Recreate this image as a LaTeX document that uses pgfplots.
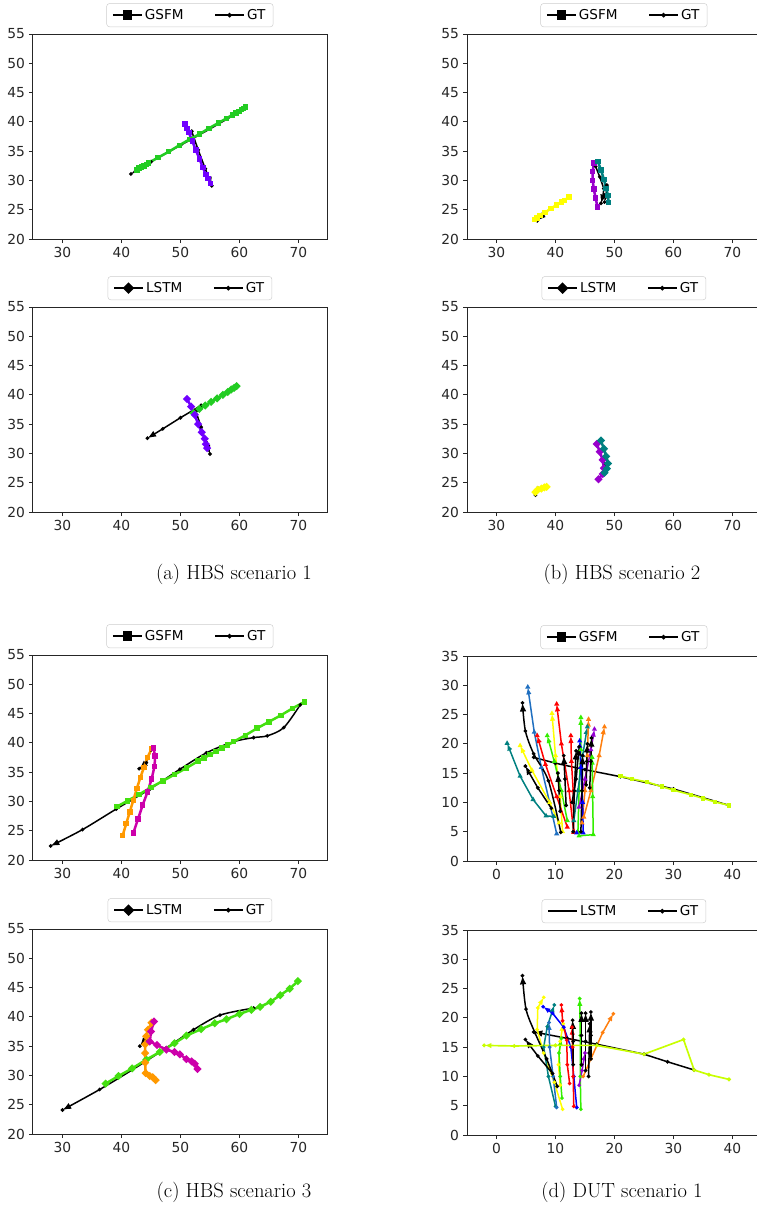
\documentclass[border=0pt]{standalone}
\usepackage{fontspec}
\usepackage{pgfplots}
\pgfplotsset{compat=1.18}
\usetikzlibrary{arrows.meta}
\newfontfamily\djv{DejaVu Sans}

\definecolor{ga}{HTML}{22CC22}
\definecolor{pa}{HTML}{7000FF}
\definecolor{yl}{HTML}{FFFF00}
\definecolor{pb}{HTML}{9900CC}
\definecolor{tl}{HTML}{008080}
\definecolor{gc}{HTML}{44E010}
\definecolor{oc}{HTML}{FF9900}
\definecolor{mc}{HTML}{CC00AA}
\definecolor{lm}{HTML}{C8FF00}
\definecolor{tb}{HTML}{1F6FC0}
\definecolor{rd}{HTML}{FF0000}
\definecolor{gr}{HTML}{33EE00}
\definecolor{or}{HTML}{FF7F0E}
\definecolor{pu}{HTML}{9400D3}
\definecolor{bl}{HTML}{0000FF}

\pgfplotsset{
  traj/.style={scale only axis, width=88.5mm, height=61.5mm, anchor=south west,
    axis line style={black!85, line width=0.3mm},
    tick align=outside, tick pos=left, major tick length=1.2mm,
    tick style={black!85, line width=0.3mm},
    ticklabel style={font=\djv\fontsize{11.8}{14}\selectfont, text=black!85},
    /pgf/number format/assume math mode=true,
    legend columns=2,
    legend style={at={(0.532,1)}, anchor=south, yshift=2.1mm,
      font=\djv\fontsize{11.6}{14}\selectfont, draw=black!20, rounded corners=0.8mm,
      inner xsep=1.6mm, inner ysep=1.0mm,
      /tikz/every even column/.append style={column sep=8.5mm}},
    legend image code/.code={\draw[mark repeat=2,mark phase=2,##1] plot coordinates {(0mm,0mm) (4.35mm,0mm) (8.7mm,0mm)};},
  },
  hbs/.style={traj, xmin=25, xmax=75, ymin=20, ymax=55, xtick={30,40,...,70}, ytick={20,25,...,55}},
  dut/.style={traj, xmin=-5, xmax=45, ymin=0, ymax=35, xtick={0,10,...,40}, ytick={0,5,...,35}},
  gs/.style={line width=0.75mm, mark=square*, mark size=0.45mm, forget plot},
  ls/.style={line width=0.75mm, mark=square*, mark options={rotate=45}, mark size=0.5mm, forget plot},
  gt/.style={black, line width=0.45mm, mark=*, mark size=0.3mm, forget plot, -{Latex[length=2.6mm,width=2mm]}},
  gtn/.style={black, line width=0.45mm, mark=*, mark size=0.3mm, forget plot},
  gsd/.style={line width=0.45mm, mark=triangle*, mark size=0.45mm, forget plot, -{Latex[length=2.2mm,width=1.6mm]}},
  lsd/.style={line width=0.45mm, mark=*, mark size=0.3mm, forget plot, -{Latex[length=2.2mm,width=1.6mm]}},
  legG/.style={black, line width=0.45mm, mark=square*, mark size=1.2mm},
  legL/.style={black, line width=0.45mm, mark=square*, mark options={rotate=45}, mark size=1.0mm},
  legT/.style={black, line width=0.45mm, mark=*, mark size=0.45mm},
}

\begin{document}
\begin{tikzpicture}
\path[use as bounding box] (0,0) rectangle (227.1mm,-362.7mm);
\clip (0,0) rectangle (227.1mm,-362.7mm);

% (a) GSFM
\begin{axis}[hbs, at={(9.9mm,-71.7mm)}]
\addlegendimage{legG}\addlegendentry{GSFM}
\addlegendimage{legT}\addlegendentry{GT}
\addplot[gt] coordinates {(61.0,42.3) (55,38.8) (50,36.0) (45,33.2) (41.6,31.1)};
\addplot[gt] coordinates {(51.9,38.4) (53.0,35.2) (54.2,32.0) (55.3,29.1)};
\addplot[gs, ga] coordinates {(42.6,31.8) (43.0,32.1) (43.4,32.3) (43.8,32.5) (44.2,32.7) (44.6,33.0) (46.2,33.9) (48.0,34.9) (49.8,36.0) (51.5,37.0) (53.2,37.9) (54.8,38.9) (56.4,39.8) (57.8,40.6) (58.8,41.2) (59.4,41.5) (59.9,41.8) (60.3,42.1) (60.7,42.3) (61.0,42.5)};
\addplot[gs, pa] coordinates {(50.8,39.6) (51.1,38.9) (51.4,38.2) (52.0,36.7) (52.6,35.2) (53.2,33.7) (53.8,32.2) (54.3,31.0) (54.7,30.3) (55.1,29.5)};
\end{axis}

% (a) LSTM
\begin{axis}[hbs, at={(9.9mm,-153.6mm)}]
\addlegendimage{legL}\addlegendentry{LSTM}
\addlegendimage{legT}\addlegendentry{GT}
\addplot[gt] coordinates {(53.5,38.2) (50,36.1) (47,34.2) (44.4,32.6)};
\addplot[gt] coordinates {(52.6,37.2) (53.5,34.5) (54.3,32.0) (55.0,29.9)};
\addplot[ls, ga] coordinates {(52.2,36.9) (53.2,37.6) (54.2,38.2) (55.2,38.8) (56.2,39.4) (57.2,40.0) (58.0,40.5) (58.6,40.9) (59.1,41.2) (59.5,41.5)};
\addplot[ls, pa] coordinates {(51.1,39.3) (51.8,38.0) (52.4,36.6) (53.0,35.0) (53.6,33.6) (54.1,32.5) (54.3,31.6) (54.5,30.9)};
\end{axis}

% (b) GSFM
\begin{axis}[hbs, at={(140.1mm,-71.7mm)}]
\addlegendimage{legG}\addlegendentry{GSFM}
\addlegendimage{legT}\addlegendentry{GT}
\addplot[gt] coordinates {(38.0,24.2) (36.9,23.1)};
\addplot[gt] coordinates {(46.8,32.4) (47.5,30.6) (48.2,28.6) (48.0,27.1) (47.7,26.1)};
\addplot[gt] coordinates {(48.7,29.2) (48.6,27.6) (48.3,26.3)};
\addplot[gs, yl] coordinates {(36.4,23.3) (36.9,23.6) (37.4,24.0) (38.2,24.5) (39.2,25.2) (40.2,25.8) (41.0,26.3) (41.5,26.6) (42.3,27.2)};
\addplot[gs, pb] coordinates {(46.5,33.0) (46.3,31.5) (46.3,30.0) (46.5,28.5) (46.8,27.0) (47.1,25.5)};
\addplot[gs, tl] coordinates {(47.2,33.2) (47.7,31.8) (48.2,30.2) (48.6,28.6) (48.9,27.4) (49.0,26.2)};
\end{axis}

% (b) LSTM
\begin{axis}[hbs, at={(140.1mm,-153.6mm)}]
\addlegendimage{legL}\addlegendentry{LSTM}
\addlegendimage{legT}\addlegendentry{GT}
\addplot[gt] coordinates {(37.0,23.6) (36.6,22.9)};
\addplot[gt] coordinates {(48.4,28.0) (48.2,27.0)};
\addplot[ls, yl] coordinates {(36.6,23.4) (37.0,23.8) (37.6,24.0) (38.1,24.2) (38.5,24.3)};
\addplot[ls, pb] coordinates {(47.0,31.6) (47.5,30.3) (48.0,28.9) (48.2,27.5) (48.0,26.5) (47.3,25.6)};
\addplot[ls, tl] coordinates {(47.7,32.2) (48.2,30.8) (48.6,29.5) (48.9,28.3) (48.7,27.4) (48.3,26.7)};
\end{axis}

% (c) GSFM
\begin{axis}[hbs, at={(9.9mm,-258.0mm)}]
\addlegendimage{legG}\addlegendentry{GSFM}
\addlegendimage{legT}\addlegendentry{GT}
\addplot[gt, smooth] coordinates {(70.3,46.5) (67.5,42.6) (64.7,41.2) (62.4,40.9) (59.0,40.2) (54.4,38.3) (49.9,35.5) (44.8,32.1) (39.1,28.7) (33.4,25.2) (28.0,22.4)};
\addplot[gt] coordinates {(45.0,38.8) (44.2,36.6) (43.0,35.6)};
\addplot[gs, gc] coordinates {(39.2,29.1) (41,30.1) (43,31.2) (45,32.4) (47,33.5) (49,34.6) (51,35.7) (53,36.9) (54,37.4) (55,38.0) (56,38.5) (57,39.1) (58,39.6) (59,40.2) (61,41.3) (63,42.5) (65,43.6) (67,44.7) (69,45.9) (71,47.0)};
\addplot[gs, oc] coordinates {(40.2,24.2) (40.8,26.2) (41.4,28.2) (42.0,30.2) (42.6,32.2) (43.2,34.1) (43.8,35.8) (44.4,37.5) (45.1,39.0)};
\addplot[gs, mc] coordinates {(42.0,24.6) (42.8,27.0) (43.6,29.4) (44.4,31.6) (45.1,33.8) (45.6,36.0) (45.7,37.8) (45.4,39.1)};
\end{axis}

% (c) LSTM
\begin{axis}[hbs, at={(9.9mm,-340.2mm)}]
\addlegendimage{legL}\addlegendentry{LSTM}
\addlegendimage{legT}\addlegendentry{GT}
\addplot[gt, smooth] coordinates {(62.4,41.5) (56.7,40.3) (52.2,37.8) (47.6,34.7) (41.9,31.0) (36.3,27.6) (30.0,24.1)};
\addplot[gt] coordinates {(44.2,36.3) (43.1,35.0)};
\addplot[ls, gc] coordinates {(37.3,28.6) (39.5,29.9) (41.8,31.2) (44.2,32.7) (46.5,34.0) (49,35.5) (51,36.8) (53.5,37.9) (55.8,38.9) (57.8,39.6) (60,40.5) (62,41.2) (63.5,41.7) (65.3,42.6) (66.9,43.7) (68.5,44.8) (69.9,46.1)};
\addplot[ls, oc] coordinates {(45.1,39.0) (44.5,37.8) (44.2,36.7) (44.0,35.3) (44.0,33.8) (44.0,32.2) (44.1,30.4) (44.8,29.9) (45.3,29.7) (45.8,29.2)};
\addplot[ls, mc] coordinates {(45.5,39.2) (45.0,37.5) (44.8,35.8) (46.0,35.2) (47.6,34.4) (49.0,34.0) (49.9,33.6) (51.0,32.8) (51.9,32.4) (52.4,32.0) (52.9,31.1)};
\end{axis}

% (d) GSFM
\begin{axis}[dut, at={(140.1mm,-258.3mm)}]
\addlegendimage{legG}\addlegendentry{GSFM}
\addlegendimage{legT}\addlegendentry{GT}
\addplot[gtn] coordinates {(39.4,9.5) (30,12.3) (21,14.4) (15,15.6) (10,16.7) (6.3,17.7)};
\addplot[gsd, tb] coordinates {(10.2,4.65) (9.0,10) (7.6,16) (6.4,22) (5.3,29.7)};
\addplot[gsd, tl] coordinates {(9.7,7.6) (8.4,7.7) (6.2,10.5) (4,14.5) (1.8,20.1)};
\addplot[gsd, yl] coordinates {(10.6,6.5) (9.0,10) (6.0,15.5) (4.0,19.7)};
\addplot[gsd, yl] coordinates {(11.2,5.0) (10.8,11) (10.0,18) (9.4,25.2)};
\addplot[gsd, gr] coordinates {(12.0,6.9) (11.0,12) (9.8,17) (8.6,21.4)};
\addplot[gsd, rd] coordinates {(12.0,5.8) (10.2,11) (8.3,16.5) (6.9,21.4)};
\addplot[gsd, rd] coordinates {(13.1,4.9) (12.3,12) (11.0,20) (10.2,26.8)};
\addplot[gsd, rd] coordinates {(13.1,5.0) (13.0,12) (12.7,17) (12.6,21.4)};
\addplot[gsd, gr] coordinates {(13.8,5.0) (14.0,12) (14.3,19) (14.3,24.5)};
\addplot[gsd, tl] coordinates {(13.1,6.9) (13.8,12) (14.6,18) (15.4,22.9)};
\addplot[gsd, or] coordinates {(14.5,6.5) (15.0,12) (15.4,18) (15.6,24.2)};
\addplot[gsd, or] coordinates {(14.8,7.5) (16.0,12) (17.4,18) (18.3,22.9)};
\addplot[gsd, pu] coordinates {(14.0,9.2) (15.0,14) (16.0,19) (16.6,22.5)};
\addplot[gsd, bl] coordinates {(13.6,4.8) (14.7,4.8) (14.6,10) (14.3,16) (14.1,20.5)};
\addplot[gsd, gr] coordinates {(14.0,4.3) (16.4,4.5) (16.3,11) (16.2,17.7)};
\addplot[gs, lm, line width=0.5mm, mark size=0.4mm] coordinates {(39.4,9.5) (37,10.1) (35,10.7) (33,11.3) (30,12.1) (28,12.7) (25.5,13.5) (23,14.0) (21,14.5)};
\addplot[gt, smooth] coordinates {(10.9,4.9) (8.8,13.7) (6.3,18.3) (4.9,22.2) (4.4,27.0)};
\addplot[gt] coordinates {(9.3,9.0) (7.0,12.5) (4.9,16.2)};
\addplot[gt] coordinates {(13.0,5.0) (13.2,12) (13.5,18.8)};
\addplot[gt] coordinates {(14.3,5.0) (14.5,12) (14.6,18.0)};
\addplot[gt] coordinates {(15.8,12.5) (16.0,17) (16.1,21.0)};
\addplot[gt] coordinates {(11.8,9.5) (11.6,14) (11.4,18.0)};
\addplot[gt] coordinates {(10.8,8.5) (10.6,12) (10.4,15.0)};
\addplot[gt] coordinates {(12.8,10) (13.5,14) (14.0,19.5)};
\addplot[gt] coordinates {(15.2,13) (15.3,17) (15.4,20.0)};
\end{axis}

% (d) LSTM
\begin{axis}[dut, at={(140.1mm,-340.5mm)}]
\addlegendimage{black, line width=0.45mm}\addlegendentry{LSTM}
\addlegendimage{legT}\addlegendentry{GT}
\addplot[gt] coordinates {(33.5,11.1) (29,12.5) (25,13.8) (17,15.5) (12,16.5) (6.3,17.6)};
\addplot[lsd, yl] coordinates {(11.2,4.4) (9.8,9) (8.0,14) (6.9,18) (7.0,21.7) (8.0,23.5)};
\addplot[lsd, yl] coordinates {(10.8,8.5) (10.5,12) (10.8,16) (11.3,19)};
\addplot[lsd, bl] coordinates {(13.6,4.7) (13.1,10) (12.6,15.0) (11.4,18.4) (9.5,20.8) (7.9,21.9)};
\addplot[lsd, tl] coordinates {(10.0,4.9) (8.8,10) (8.0,15) (8.6,18.5) (9.8,22.2)};
\addplot[lsd, tb] coordinates {(10.2,4.7) (9.6,10) (9.0,15) (8.9,19.2)};
\addplot[lsd, gr] coordinates {(11.1,6.3) (10.8,10) (10.6,14) (11.0,16.5)};
\addplot[lsd, gr] coordinates {(14.3,4.4) (14.2,10) (14.2,17) (14.1,23.3)};
\addplot[lsd, rd] coordinates {(12.4,8.8) (12.0,12) (11.9,16.2) (11.2,19.5) (11.0,22.2)};
\addplot[lsd, rd] coordinates {(13.1,4.9) (13.0,10) (12.9,15) (12.8,18.4)};
\addplot[lsd, or] coordinates {(14.7,10.0) (16.0,13) (18,17.5) (19.8,20.7)};
\addplot[lsd, pu] coordinates {(14.0,8.5) (14.5,11) (15,14)};
\addplot[gt, smooth] coordinates {(10.3,8.3) (8.5,13) (6.5,17.5) (5.0,21.5) (4.4,27.2)};
\addplot[gt] coordinates {(9.5,10.5) (7.0,13.5) (4.9,16.3)};
\addplot[gt] coordinates {(14.4,12) (14.4,17) (14.4,20.8)};
\addplot[gt] coordinates {(15.1,11) (15.1,16) (15.1,20.8)};
\addplot[gt] coordinates {(16.0,13) (16.0,17) (16.0,21.0)};
\addplot[gt] coordinates {(13.0,12) (13.0,16) (12.9,19.6)};
\addplot[gt] coordinates {(15.6,10) (15.7,14) (15.8,19)};
\addplot[lsd, lm, line width=0.5mm] coordinates {(39.4,9.5) (36,10.3) (33.5,11.1) (31.7,16.3) (25.0,13.8) (17.0,15.3) (10,15.3) (3,15.2) (-2.1,15.3)};
\end{axis}

\node[font=\fontsize{17.5}{20}\selectfont] at (70.2mm,-172.2mm) {(a) HBS scenario 1};
\node[font=\fontsize{17.5}{20}\selectfont] at (186.6mm,-172.2mm) {(b) HBS scenario 2};
\node[font=\fontsize{17.5}{20}\selectfont] at (70.2mm,-357.6mm) {(c) HBS scenario 3};
\node[font=\fontsize{17.5}{20}\selectfont] at (186.6mm,-357.6mm) {(d) DUT scenario 1};
\end{tikzpicture}
\end{document}
